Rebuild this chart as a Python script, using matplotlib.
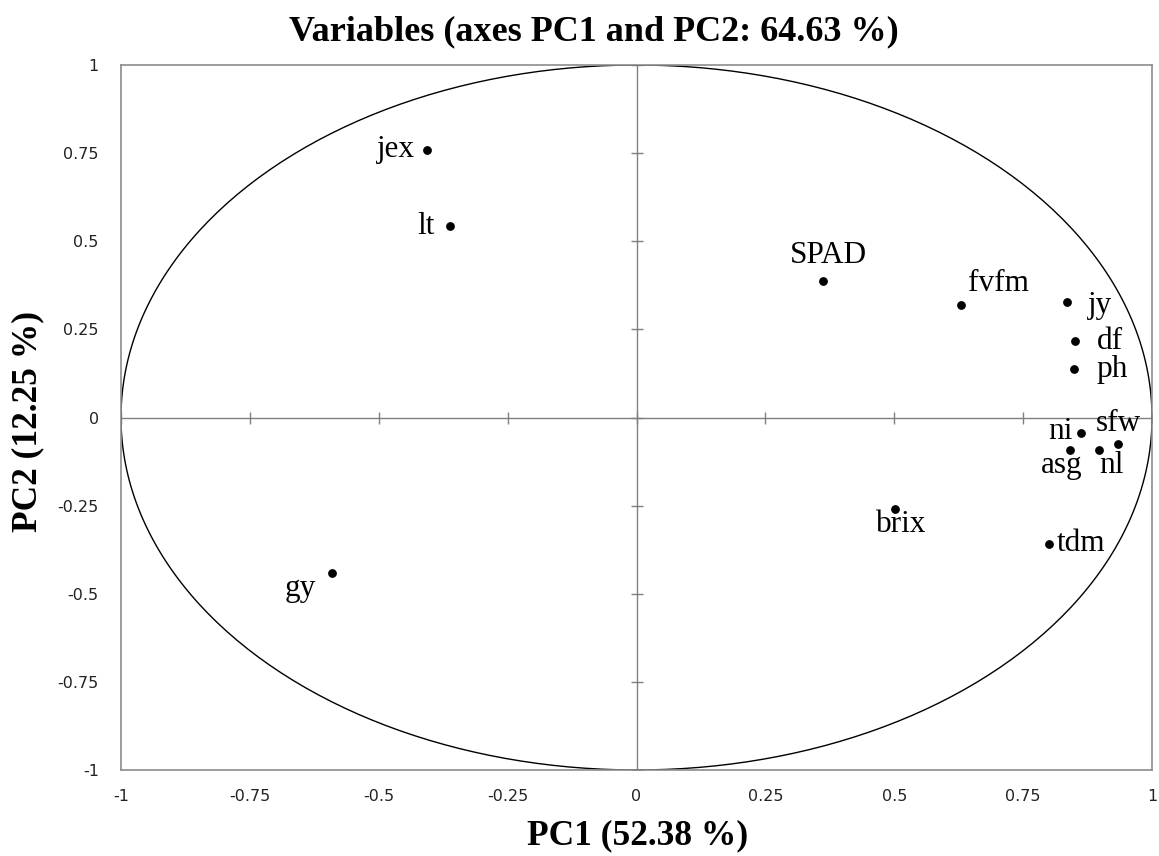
import numpy as np
import matplotlib
matplotlib.use("Agg")
import matplotlib.pyplot as plt

# Data
names = ["jex", "lt", "SPAD", "fvfm", "jy", "df", "ph", "ni", "sfw", "asg", "nl", "brix", "tdm", "gy"]
pc1 = [-0.406, -0.361, 0.361, 0.629, 0.835, 0.850, 0.849, 0.862, 0.934, 0.841, 0.897, 0.502, 0.800, -0.590]
pc2 = [0.759, 0.543, 0.386, 0.318, 0.327, 0.216, 0.137, -0.045, -0.074, -0.091, -0.091, -0.259, -0.358, -0.441]
ticks = [-1, -0.75, -0.5, -0.25, 0, 0.25, 0.5, 0.75, 1]
tick_labels = ["-1", "-0.75", "-0.5", "-0.25", "0", "0.25", "0.5", "0.75", "1"]
title = "Variables (axes PC1 and PC2: 64.63 %)"
xlabel = "PC1 (52.38 %)"
ylabel = "PC2 (12.25 %)"

# label placement: (dx, dy) in points, ha, va
place = {
    "jex": (-9, 0, "right", "center"),
    "lt": (-11, 0, "right", "center"),
    "SPAD": (4, 8, "center", "bottom"),
    "fvfm": (5, 5, "left", "bottom"),
    "jy": (15, -2, "left", "center"),
    "df": (16, 0, "left", "center"),
    "ph": (16, 0, "left", "center"),
    "ni": (-6, 1, "right", "center"),
    "sfw": (0, 4, "center", "bottom"),
    "asg": (-6, -1, "center", "top"),
    "nl": (9, -1, "center", "top"),
    "brix": (4, -1, "center", "top"),
    "tdm": (6, 0, "left", "center"),
    "gy": (-12, -11, "right", "center"),
}

fig = plt.figure(figsize=(11.59, 8.56), dpi=100)
ax = fig.add_axes([121/1159, 1-770/856, (1152-121)/1159, (770-65)/856])
ax.set_xlim(-1, 1)
ax.set_ylim(-1, 1)

for s in ax.spines.values():
    s.set_color("#8c8c8c")
    s.set_linewidth(1.2)

# center lines
ax.axhline(0, color="#808080", lw=1.0, zorder=1)
ax.axvline(0, color="#808080", lw=1.0, zorder=1)
ax.plot(ticks, [0]*len(ticks), ls="none", marker="|", ms=9, mew=1.0, color="#808080", zorder=1)
ax.plot([0]*len(ticks), ticks, ls="none", marker="_", ms=9, mew=1.0, color="#808080", zorder=1)

# circle
th = np.linspace(0, 2*np.pi, 400)
ax.plot(np.cos(th), np.sin(th), color="black", lw=1.0, zorder=2)

ax.scatter(pc1, pc2, s=28, color="black", zorder=3)
for n, x, y in zip(names, pc1, pc2):
    dx, dy, ha, va = place[n]
    ax.annotate(n, (x, y), xytext=(dx, dy), textcoords="offset points",
                ha=ha, va=va, fontsize=22.5, family="Liberation Serif", color="black")

ax.set_xticks(ticks)
ax.set_xticklabels(tick_labels)
ax.set_yticks(ticks)
ax.set_yticklabels(tick_labels)
ax.tick_params(length=0, labelsize=11.5, colors="#222222")
ax.tick_params(axis="x", pad=14)
ax.tick_params(axis="y", pad=16)

fig.text(594/1159, 1-32/856, title, ha="center", va="center", fontsize=26,
         fontweight="bold", family="Liberation Serif")
fig.text(638/1159, 1-836/856, xlabel, ha="center", va="center", fontsize=25.5,
         fontweight="bold", family="Liberation Serif")
fig.text(28/1159, 1-422/856, ylabel, ha="center", va="center", fontsize=25.5,
         fontweight="bold", family="Liberation Serif", rotation=90)

fig.savefig("out.png", dpi=100)
